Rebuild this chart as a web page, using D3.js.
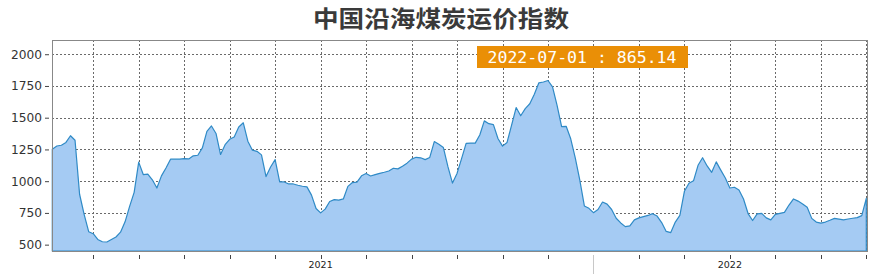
<!DOCTYPE html>
<html>
<head>
<meta charset="utf-8">
<script src="https://cdn.jsdelivr.net/npm/d3@7"></script>
<style>
html,body{margin:0;padding:0;background:#fff;}
svg{display:block;}
</style>
</head>
<body>
<svg id="chart" width="880" height="278"></svg>
<script>
// ---- data ----
const title = "中国沿海煤炭运价指数";
const values = [
1252,1277,1283,1305,1358,1322,897,739,602,586,
541,523,521,541,560,598,680,801,912,1150,
1052,1055,1011,946,1042,1104,1173,1173,1173,1178,
1175,1200,1204,1262,1392,1435,1376,1210,1287,1330,
1348,1427,1460,1315,1244,1235,1207,1036,1112,1170,
994,994,978,978,968,960,955,890,785,750,
780,840,855,851,860,959,989,992,1042,1061,
1041,1052,1062,1070,1080,1102,1097,1118,1142,1174,
1188,1184,1170,1187,1312,1290,1265,1114,985,1061,
1178,1298,1300,1300,1364,1475,1453,1445,1336,1276,
1305,1442,1580,1515,1571,1610,1685,1775,1781,1793,
1743,1597,1430,1432,1334,1183,1008,805,786,752,
777,836,819,777,708,671,642,648,695,711,
721,730,744,725,674,604,595,678,731,920,
984,1003,1125,1185,1120,1070,1152,1087,1025,946,
952,931,860,745,690,743,746,711,695,739,
747,754,812,860,843,821,794,707,678,670,
678,692,707,701,695,702,708,713,729,865.14
];
const lastDate = "2022-07-01";
const yTicks = [500, 750, 1000, 1250, 1500, 1750, 2000];
const yearLabels = ["2021", "2022"];
const yearIndex = [59, 149];
const tickEvery = 10;
const markIndex = 119;

// ---- layout ----
const L = 52, R = 868, T = 40, B = 251;
const svg = d3.select("#chart");

const x = d3.scaleLinear().domain([0, values.length - 1]).range([52.3, 866.3]);
const y = d3.scaleLinear().domain([450, 2112]).range([B, T]);

// title
svg.append("text")
  .attr("x", 441).attr("y", 27)
  .attr("text-anchor", "middle")
  .attr("font-family", "'Noto Sans CJK SC', sans-serif")
  .attr("font-size", 23).attr("font-weight", 700)
  .attr("fill", "#3a3a3a")
  .attr("textLength", 256).attr("lengthAdjust", "spacingAndGlyphs")
  .text(title);

// grid
const xTickIdx = d3.range(tickEvery - 1, values.length, tickEvery);
const grid = svg.append("g").attr("stroke", "#6a6a6a").attr("stroke-width", 1)
  .attr("stroke-dasharray", "2,2").attr("shape-rendering", "crispEdges");
yTicks.forEach(v => {
  grid.append("line").attr("x1", L).attr("x2", R)
    .attr("y1", Math.round(y(v)) + 0.5).attr("y2", Math.round(y(v)) + 0.5);
});
xTickIdx.forEach(i => {
  grid.append("line").attr("y1", T).attr("y2", B)
    .attr("x1", Math.round(x(i)) + 0.5).attr("x2", Math.round(x(i)) + 0.5);
});

// area
const area = d3.area()
  .x((d, i) => x(i)).y0(B).y1(d => y(d));
svg.append("path").datum(values)
  .attr("d", area)
  .attr("fill", "#a5cbf3")
  .attr("stroke", "#2f8ac6").attr("stroke-width", 1.2)
  .attr("stroke-linejoin", "round");

// frame
svg.append("rect").attr("x", L + 0.5).attr("y", T + 0.5)
  .attr("width", R - L - 1).attr("height", B - T)
  .attr("fill", "none").attr("stroke", "#888").attr("stroke-width", 1.2)
  .attr("shape-rendering", "crispEdges");

// y axis
const yAxis = d3.axisLeft(y).tickValues(yTicks).tickFormat(d3.format("d"))
  .tickSize(4).tickPadding(3);
const gy = svg.append("g").attr("transform", `translate(${L - 3},0)`).call(yAxis);
gy.select(".domain").remove();
gy.selectAll(".tick line").attr("stroke", "#444");
gy.selectAll(".tick text").attr("font-family", "'DejaVu Sans', sans-serif")
  .attr("font-size", 12.2).attr("fill", "#333");

// x axis ticks
const gx = svg.append("g");
xTickIdx.forEach(i => {
  gx.append("line").attr("x1", Math.round(x(i)) + 0.5).attr("x2", Math.round(x(i)) + 0.5)
    .attr("y1", 255).attr("y2", 259).attr("stroke", "#444")
    .attr("shape-rendering", "crispEdges");
});
gx.append("line").attr("x1", Math.round(x(markIndex)) + 0.5).attr("x2", Math.round(x(markIndex)) + 0.5)
  .attr("y1", 255).attr("y2", 274).attr("stroke", "#c8c8c8")
  .attr("shape-rendering", "crispEdges");
yearLabels.forEach((lab, k) => {
  gx.append("text").attr("x", x(yearIndex[k])).attr("y", 268)
    .attr("text-anchor", "middle")
    .attr("font-family", "'DejaVu Sans', sans-serif")
    .attr("font-size", 9.5).attr("fill", "#222")
    .text(lab);
});

// tooltip box (last value)
const lastVal = values[values.length - 1];
const label = `${lastDate} : ${lastVal.toFixed(2)}`;
svg.append("rect").attr("x", 477).attr("y", 46).attr("width", 211).attr("height", 22)
  .attr("fill", "#ea8f06");
svg.append("text").attr("x", 487.5).attr("y", 63)
  .attr("font-family", "'DejaVu Sans Mono', monospace")
  .attr("font-size", 16.5).attr("fill", "#fff")
  .attr("textLength", 189).attr("lengthAdjust", "spacingAndGlyphs")
  .text(label);
</script>
</body>
</html>
